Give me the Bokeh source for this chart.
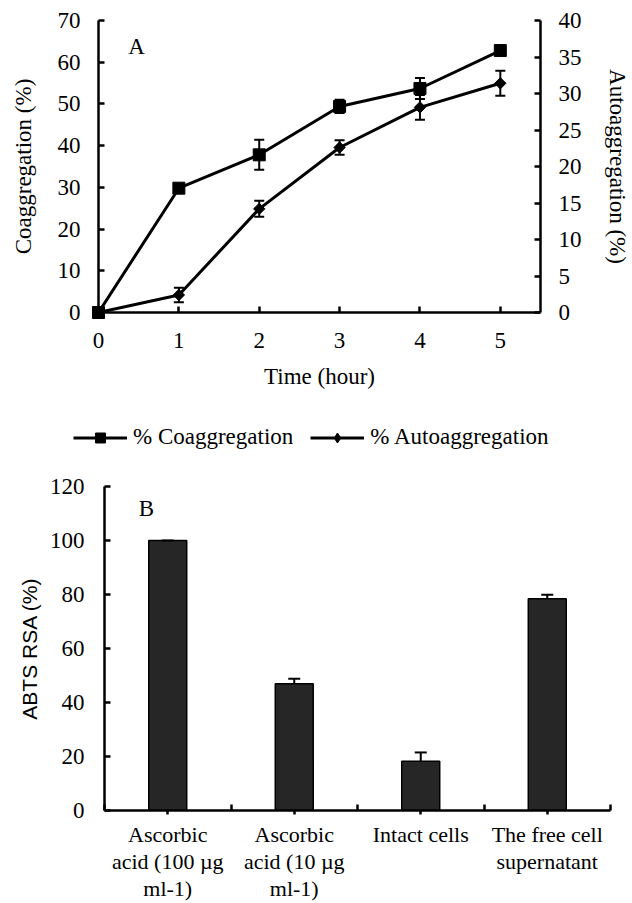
import numpy as np
from bokeh.plotting import figure
from bokeh.models import (Range1d, LinearAxis, FixedTicker, Whisker, TeeHead,
                          ColumnDataSource, Legend, LegendItem, Label)
from bokeh.embed import file_html
from bokeh.resources import INLINE

# ---------------- data ----------------
time_h = [0, 1, 2, 3, 4, 5]
coaggregation = [0, 29.8, 37.8, 49.4, 53.7, 62.8]
coaggregation_err = [0, 0.4, 3.6, 1.6, 2.5, 0.5]
autoaggregation = [0, 2.4, 14.2, 22.6, 28.1, 31.4]
autoaggregation_err = [0, 1.0, 1.1, 1.0, 1.7, 1.7]
left_ticks = [0, 10, 20, 30, 40, 50, 60, 70]
right_ticks = [0, 5, 10, 15, 20, 25, 30, 35, 40]

categories = ["Ascorbic\nacid (100 µg\nml-1)", "Ascorbic\nacid (10 µg\nml-1)",
              "Intact cells", "The free cell\nsupernatant"]
abts_rsa = [100, 46.9, 18.2, 78.4]
abts_err = [0, 1.9, 3.3, 1.5]
abts_ticks = [0, 20, 40, 60, 80, 100, 120]

SERIF = "Liberation Serif"
SANS = "Liberation Sans"
FS = "23px"


def style_axis(ax, standoff=18):
    ax.axis_line_width = 2.5
    ax.axis_line_color = "black"
    ax.major_tick_line_width = 2.5
    ax.major_tick_line_color = "black"
    ax.major_tick_in = 6
    ax.major_tick_out = 0
    ax.minor_tick_line_color = None
    ax.major_label_text_font = SERIF
    ax.major_label_text_font_size = FS
    ax.major_label_text_color = "black"
    ax.major_label_standoff = standoff
    ax.axis_label_text_font = SERIF
    ax.axis_label_text_font_size = FS
    ax.axis_label_text_font_style = "normal"
    ax.axis_label_text_color = "black"


def label_only_axis(text, standoff):
    ax = LinearAxis(ticker=FixedTicker(ticks=[]), axis_label=text, bounds=(0, 49.9))
    ax.axis_line_color = None
    ax.major_tick_line_color = None
    ax.minor_tick_line_color = None
    ax.axis_label_standoff = standoff
    ax.axis_label_text_font = SERIF
    ax.axis_label_text_font_size = FS
    ax.axis_label_text_font_style = "normal"
    ax.axis_label_text_color = "black"
    return ax


def add_series(p, src, marker_kw, y_range_name="default", level="glyph"):
    ln = p.line("x", "y", source=src, line_width=3, line_color="black", y_range_name=y_range_name)
    sc = p.scatter("x", "y", source=src, fill_color="black", line_color="black",
                   y_range_name=y_range_name, level=level, **marker_kw)
    return ln, sc


# ---------------- chart A ----------------
pA = figure(width=632, height=396, x_range=Range1d(0, 5.5), y_range=Range1d(0, 70),
            output_backend="svg", toolbar_location=None,
            min_border_left=98, min_border_right=86, min_border_top=20, min_border_bottom=84)
pA.extra_y_ranges = {"auto": Range1d(0, 40)}
pA.grid.visible = False
pA.outline_line_color = None

pA.xaxis.ticker = FixedTicker(ticks=time_h)
pA.yaxis.ticker = FixedTicker(ticks=left_ticks)
pA.xaxis.axis_label = "Time (hour)"
style_axis(pA.xaxis[0], standoff=20)
pA.xaxis[0].axis_label_standoff = 13
style_axis(pA.yaxis[0])

raxis = LinearAxis(y_range_name="auto", ticker=FixedTicker(ticks=right_ticks))
style_axis(raxis)
pA.add_layout(raxis, "right")

pA.add_layout(label_only_axis("Coaggregation (%)", 19), "left")
pA.add_layout(label_only_axis("Autoaggregation (%)", 20), "right")

src_c = ColumnDataSource(dict(x=time_h, y=coaggregation,
                              lo=[v - e for v, e in zip(coaggregation, coaggregation_err)],
                              hi=[v + e for v, e in zip(coaggregation, coaggregation_err)]))
src_a = ColumnDataSource(dict(x=time_h, y=autoaggregation,
                              lo=[v - e for v, e in zip(autoaggregation, autoaggregation_err)],
                              hi=[v + e for v, e in zip(autoaggregation, autoaggregation_err)]))

wc = Whisker(source=src_c, base="x", lower="lo", upper="hi", line_width=2, line_color="black",
             upper_head=TeeHead(size=10, line_width=2, line_color="black"),
             lower_head=TeeHead(size=10, line_width=2, line_color="black"))
wa = Whisker(source=src_a, base="x", lower="lo", upper="hi", line_width=2, line_color="black",
             y_range_name="auto",
             upper_head=TeeHead(size=10, line_width=2, line_color="black"),
             lower_head=TeeHead(size=10, line_width=2, line_color="black"))
pA.add_layout(wc)
pA.add_layout(wa)

SQUARE = dict(marker="square", size=12)
DIAMOND = dict(marker="square", angle=np.pi / 4, size=8)
add_series(pA, src_c, SQUARE, level="overlay")
add_series(pA, src_a, DIAMOND, y_range_name="auto", level="overlay")

pA.add_layout(Label(x=38, y=266, x_units="screen", y_units="screen", text="A",
                    text_align="center", text_baseline="middle",
                    text_font=SERIF, text_font_size=FS, text_color="black"))

# ---------------- legend strip for chart A (series kept out of its view) ----------------
pL = figure(width=632, height=76, x_range=Range1d(-20, -19), y_range=Range1d(-20, -19),
            x_axis_type=None, y_axis_type=None, output_backend="svg", toolbar_location=None,
            min_border=0, min_border_left=0, min_border_right=0, min_border_top=0,
            min_border_bottom=0)
pL.grid.visible = False
pL.outline_line_color = None
kl_c, km_c = add_series(pL, src_c, dict(marker="square", size=10))
kl_a, km_a = add_series(pL, src_a, dict(marker="diamond", size=10))
legend = Legend(items=[LegendItem(label="% Coaggregation", renderers=[kl_c, km_c]),
                       LegendItem(label="% Autoaggregation", renderers=[kl_a, km_a])],
                orientation="horizontal", location=(73, 22),
                glyph_width=54, glyph_height=25, label_height=25, label_standoff=6, spacing=17,
                padding=0, margin=0, border_line_color=None, background_fill_alpha=0,
                label_text_font=SERIF, label_text_font_size=FS, label_text_color="black")
pL.add_layout(legend, "center")

# ---------------- chart B ----------------
x_center = [i + 0.5 for i in range(len(categories))]
boundaries = [float(i) for i in range(len(categories) + 1)]

pB = figure(width=632, height=431, x_range=Range1d(0, len(categories)), y_range=Range1d(0, 120),
            output_backend="svg", toolbar_location=None,
            min_border_left=104, min_border_right=22, min_border_top=14, min_border_bottom=92)
pB.grid.visible = False
pB.outline_line_color = None

src_b = ColumnDataSource(dict(x=x_center, top=abts_rsa,
                              hi=[v + e for v, e in zip(abts_rsa, abts_err)]))
pB.vbar(x="x", top="top", width=0.3, source=src_b, fill_color="#262626",
        line_color="black", line_width=1.5)
pB.add_layout(Whisker(source=src_b, base="x", lower="top", upper="hi", line_width=2,
                      line_color="black", level="annotation",
                      upper_head=TeeHead(size=12, line_width=2, line_color="black"),
                      lower_head=None))

xa = pB.xaxis[0]
style_axis(xa, standoff=7)
xa.ticker = FixedTicker(ticks=x_center, minor_ticks=boundaries)
xa.major_tick_in = 0
xa.major_tick_out = 4
xa.minor_tick_line_color = "black"
xa.minor_tick_line_width = 2.5
xa.minor_tick_in = 6
xa.minor_tick_out = 0
xa.major_label_overrides = {c: lab for c, lab in zip(x_center, categories)}
xa.major_label_text_font_size = "22px"
xa.major_label_text_line_height = 1.08

ya = pB.yaxis[0]
style_axis(ya, standoff=20)
ya.ticker = FixedTicker(ticks=abts_ticks)
ya.axis_label = "ABTS RSA (%)"
ya.axis_label_text_font = SANS
ya.axis_label_text_font_size = "21px"
ya.axis_label_standoff = 6

pB.add_layout(Label(x=42, y=302, x_units="screen", y_units="screen", text="B",
                    text_align="center", text_baseline="middle",
                    text_font=SERIF, text_font_size=FS, text_color="black"))

open("out.html", "w").write(file_html([pA, pL, pB], INLINE))
